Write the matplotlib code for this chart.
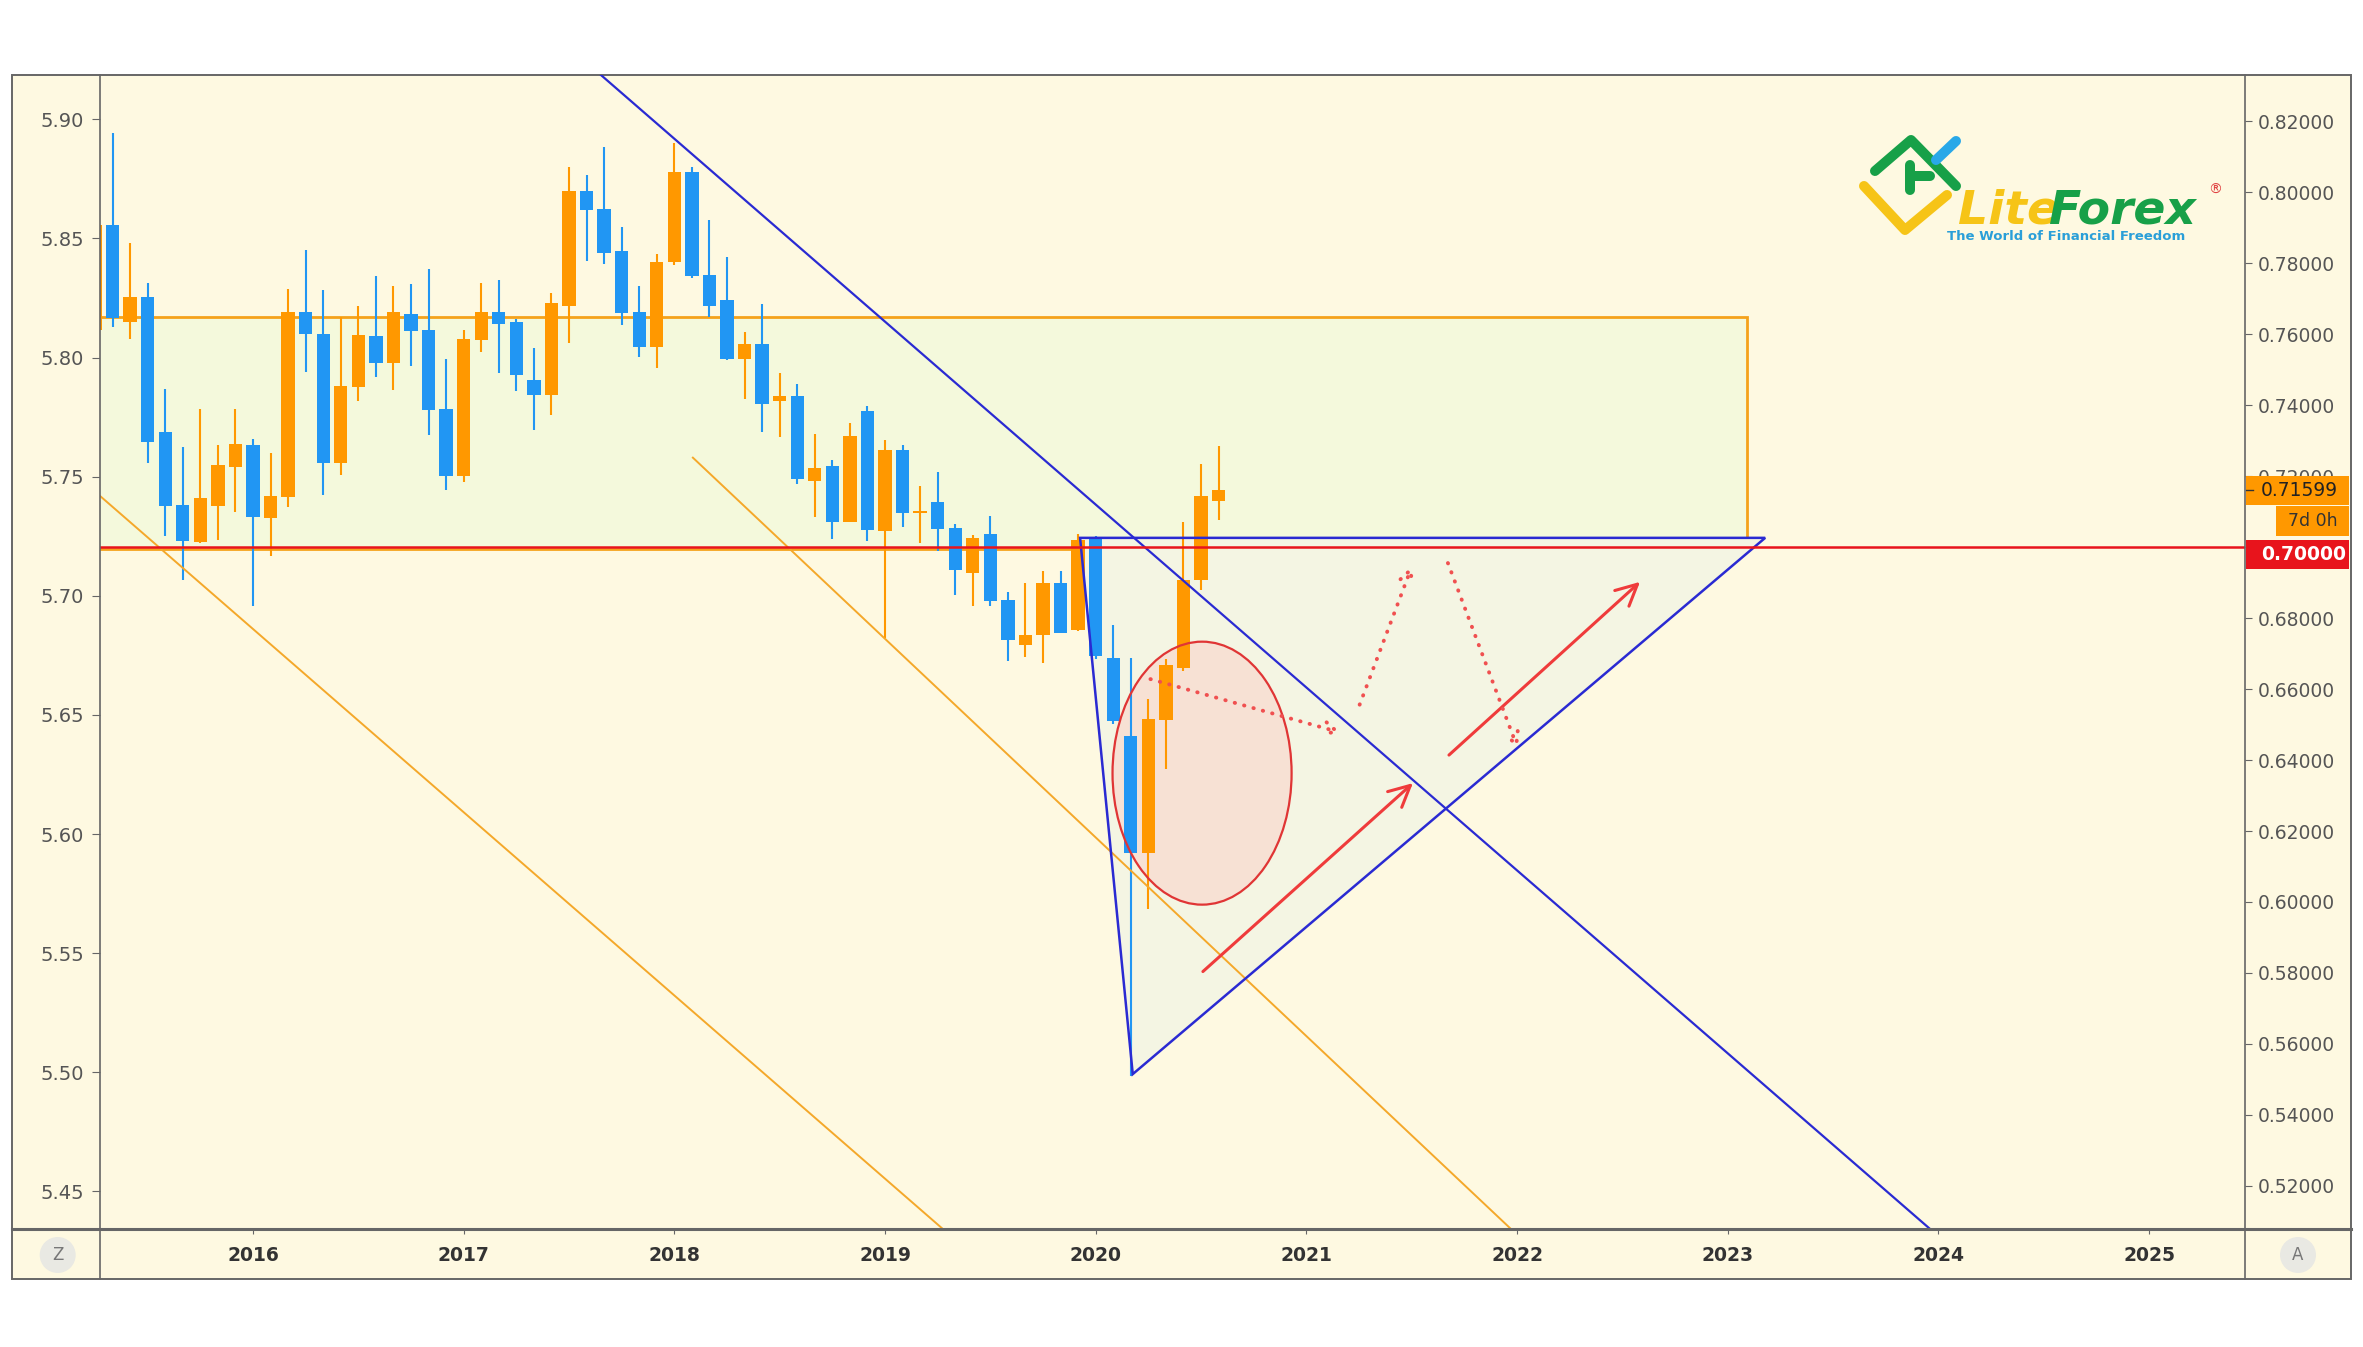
import matplotlib
matplotlib.use('Agg')
import matplotlib.pyplot as plt
from matplotlib.patches import Rectangle, Polygon, Ellipse
from matplotlib.lines import Line2D
from matplotlib.ticker import FormatStrFormatter
import pandas as pd

W, H = 2363, 1347

# monthly AUD/USD candles, Apr 2015 .. Aug 2020
months = pd.date_range('2015-04-01', periods=65, freq='MS')
opens = [0.7612, 0.7908, 0.7635, 0.7706, 0.7323, 0.7119, 0.7014, 0.7116, 0.7227,
         0.7288, 0.7081, 0.7142, 0.7662, 0.7600, 0.7236, 0.7452, 0.7595, 0.7518,
         0.7657, 0.7612, 0.7388, 0.7201, 0.7584, 0.7662, 0.7634, 0.7471, 0.7429,
         0.7680, 0.8004, 0.7952, 0.7835, 0.7661, 0.7565, 0.7803, 0.8056, 0.7766,
         0.7695, 0.7530, 0.7572, 0.7412, 0.7427, 0.7187, 0.7229, 0.7072, 0.7384,
         0.7046, 0.7273, 0.7095, 0.7127, 0.7053, 0.6927, 0.7036, 0.6850, 0.6725,
         0.6751, 0.6900, 0.6767, 0.7024, 0.6687, 0.6468, 0.6139, 0.6514, 0.6658,
         0.6906, 0.7130]
highs = [0.7908, 0.8168, 0.7856, 0.7745, 0.7445, 0.7283, 0.7388, 0.7288, 0.7388,
         0.7304, 0.7265, 0.7727, 0.7837, 0.7723, 0.7649, 0.7679, 0.7764, 0.7736,
         0.7741, 0.7784, 0.7529, 0.7612, 0.7745, 0.7753, 0.7642, 0.7560, 0.7717,
         0.8070, 0.8049, 0.8128, 0.7903, 0.7736, 0.7826, 0.8138, 0.8070, 0.7922,
         0.7817, 0.7607, 0.7684, 0.7490, 0.7459, 0.7319, 0.7244, 0.7349, 0.7398,
         0.7301, 0.7288, 0.7172, 0.7212, 0.7066, 0.7035, 0.7087, 0.6873, 0.6898,
         0.6932, 0.6932, 0.7036, 0.7030, 0.6781, 0.6688, 0.6573, 0.6685, 0.7071,
         0.7234, 0.7284]
lows = [0.7607, 0.7619, 0.7585, 0.7236, 0.7032, 0.6908, 0.7011, 0.7020, 0.7100,
        0.6833, 0.6975, 0.7112, 0.7494, 0.7147, 0.7203, 0.7412, 0.7480, 0.7443,
        0.7509, 0.7316, 0.7161, 0.7182, 0.7551, 0.7490, 0.7441, 0.7330, 0.7372,
        0.7574, 0.7807, 0.7798, 0.7626, 0.7535, 0.7504, 0.7795, 0.7757, 0.7649,
        0.7527, 0.7417, 0.7323, 0.7311, 0.7178, 0.7086, 0.7022, 0.7072, 0.7018,
        0.6744, 0.7056, 0.7011, 0.6989, 0.6866, 0.6833, 0.6833, 0.6680, 0.6690,
        0.6672, 0.6757, 0.6764, 0.6685, 0.6502, 0.5510, 0.5980, 0.6376, 0.6650,
        0.6878, 0.7077]
closes = [0.7908, 0.7645, 0.7706, 0.7297, 0.7116, 0.7016, 0.7138, 0.7230, 0.7291,
          0.7086, 0.7144, 0.7662, 0.7600, 0.7236, 0.7454, 0.7598, 0.7518, 0.7662,
          0.7610, 0.7387, 0.7201, 0.7585, 0.7662, 0.7628, 0.7485, 0.7429, 0.7687,
          0.8004, 0.7950, 0.7830, 0.7659, 0.7565, 0.7804, 0.8056, 0.7764, 0.7679,
          0.7529, 0.7572, 0.7402, 0.7427, 0.7191, 0.7224, 0.7072, 0.7313, 0.7047,
          0.7273, 0.7095, 0.7102, 0.7051, 0.6935, 0.7026, 0.6848, 0.6738, 0.6752,
          0.6900, 0.6759, 0.7021, 0.6693, 0.6510, 0.6139, 0.6517, 0.6668, 0.6906,
          0.7145, 0.71599]

year_ticks = list(range(2016, 2026))
right_ticks = [0.52, 0.54, 0.56, 0.58, 0.60, 0.62, 0.64, 0.66, 0.68, 0.70,
               0.72, 0.74, 0.76, 0.78, 0.80, 0.82]
left_ticks = [5.45, 5.50, 5.55, 5.60, 5.65, 5.70, 5.75, 5.80, 5.85, 5.90]

# drawings on the chart
zone_top, zone_bottom, zone_end = 0.7648, 0.6995, 2023.093
alert_level = 0.70
triangle = [(2019.926, 0.7026), (2020.176, 0.5515), (2023.178, 0.7026)]
blue_trend = [(2017.652, 0.8330), (2023.956, 0.5081)]
channel_lines = [[(2015.276, 0.7143), (2019.270, 0.5081)],
                 [(2018.088, 0.7252), (2021.967, 0.5081)]]
ellipse_center, ellipse_w, ellipse_h = (2020.505, 0.6363), 0.850, 0.0741
solid_arrows = [((2020.509, 0.5804), (2021.506, 0.6335)),
                ((2021.677, 0.6414), (2022.584, 0.6902))]
dotted_arrows = [((2020.260, 0.6628), (2021.164, 0.6477)),
                 ((2021.253, 0.6556), (2021.502, 0.6947)),
                 ((2021.672, 0.6955), (2022.004, 0.6432))]

BG = '#fef9e1'
UP, DOWN = '#ff9800', '#2196f3'
RED = '#ef3b3b'
BLUE_LINE = '#2a2ad2'
GRID = '#666666'


def to_left(r):
    return 5.8992 - 1.48961 * (0.82 - r)


def to_right(v):
    return 0.82 - (5.8992 - v) / 1.48961


def fx(px):
    return px / W


def fy(py):
    return 1 - py / H


fig = plt.figure(figsize=(W / 100, H / 100), dpi=100, facecolor='white')

# outer cream frame
fig.add_artist(Rectangle((fx(12), fy(1279)), fx(2351) - fx(12), fy(75) - fy(1279),
                         transform=fig.transFigure, fc=BG, ec=GRID, lw=1.4, zorder=-1))

ax = fig.add_axes([fx(99.5), fy(1228), fx(2245) - fx(99.5), fy(75) - fy(1228)])
ax.patch.set_visible(False)
for s in ax.spines.values():
    s.set_visible(False)
ax.set_xlim(2015.2714, 2025.4556)
ax.set_ylim(0.50814, 0.83302)

x = months.year + (months.month - 1) / 12

# zone, triangle, ellipse fills
ax.add_patch(Rectangle((2014.5, zone_bottom), zone_end - 2014.5, zone_top - zone_bottom,
                       fc='#f4f9dc', ec='#f5a21b', lw=2, zorder=1))
ax.add_patch(Polygon(triangle, closed=True, fc='#f4f5e3', ec='none', zorder=1.5))
ax.add_patch(Ellipse(ellipse_center, ellipse_w, ellipse_h, fc='#fcc4be', ec='none',
                     alpha=0.4, zorder=1.6))

# candles
bw = 0.0633
for xi, o, h, l, c in zip(x, opens, highs, lows, closes):
    col = UP if c >= o else DOWN
    ax.vlines(xi, l, h, color=col, lw=1.5, zorder=3)
    ax.bar(xi, max(abs(c - o), 0.0006), bottom=min(o, c), width=bw, color=col,
           edgecolor='none', zorder=3.1)

# lines
for pts in channel_lines:
    ax.plot([p[0] for p in pts], [p[1] for p in pts], color='#f4a82a', lw=1.4, zorder=4)
ax.plot([p[0] for p in blue_trend], [p[1] for p in blue_trend], color=BLUE_LINE, lw=1.6, zorder=4)
ax.add_patch(Polygon(triangle, closed=True, fc='none', ec=BLUE_LINE, lw=1.8, zorder=4.2))
ax.axhline(alert_level, color='#e8141c', lw=1.8, zorder=4.5)
ax.add_patch(Ellipse(ellipse_center, ellipse_w, ellipse_h, fc='none', ec='#e03535',
                     lw=1.6, zorder=4.3))

for tail, head in solid_arrows:
    ax.annotate('', xy=head, xytext=tail, zorder=5,
                arrowprops=dict(arrowstyle='->', color=RED, lw=2.2, mutation_scale=38,
                                shrinkA=0, shrinkB=0))
for tail, head in dotted_arrows:
    ax.annotate('', xy=head, xytext=tail, zorder=5,
                arrowprops=dict(arrowstyle='->', color='#f05050', lw=2.8, mutation_scale=22,
                                linestyle=(0, (0.1, 2.4)), capstyle='round',
                                shrinkA=0, shrinkB=0))

# axes ticks
ax.set_xticks(year_ticks)
ax.set_xticklabels([str(y) for y in year_ticks], fontsize=13.5, fontweight='bold', color='#333333')
ax.tick_params(axis='x', direction='out', length=4, color=GRID, pad=9)
ax.yaxis.tick_right()
ax.set_yticks(right_ticks)
ax.yaxis.set_major_formatter(FormatStrFormatter('%.5f'))
ax.tick_params(axis='y', direction='out', length=5, color=GRID, labelcolor='#555555',
               labelsize=13.5, pad=4)

sec = ax.secondary_yaxis('left', functions=(to_left, to_right))
sec.set_yticks(left_ticks)
sec.yaxis.set_major_formatter(FormatStrFormatter('%.2f'))
sec.spines['left'].set_visible(False)
sec.tick_params(direction='out', length=6, color=GRID, labelcolor='#555555',
                labelsize=14, pad=5)

# axis lines
fig.add_artist(Line2D([fx(99.5)] * 2, [fy(75), fy(1279)], color=GRID, lw=1.2))
fig.add_artist(Line2D([fx(2245)] * 2, [fy(75), fy(1279)], color=GRID, lw=1.2))
fig.add_artist(Line2D([fx(12), fx(2351)], [fy(1228.5), fy(1228.5)], color=GRID, lw=2.2))

# price labels on the right scale
tr = ax.get_yaxis_transform()
box_h = 0.0082
ax.add_patch(Rectangle((1.0005, closes[-1] - box_h / 2), 0.048, box_h, transform=tr,
                       fc=UP, ec='none', clip_on=False, zorder=6))
ax.plot([1.0005, 1.0035], [closes[-1]] * 2, transform=tr, color='#333333', lw=1,
        clip_on=False, zorder=7)
ax.text(1.0075, closes[-1], f'{closes[-1]:.5f}', transform=tr, ha='left', va='center',
        fontsize=13.5, color='#222222', zorder=7, clip_on=False)
ax.add_patch(Rectangle((1.01445, 0.70735 - box_h / 2), 0.034, box_h, transform=tr,
                       fc=UP, ec='none', clip_on=False, zorder=6))
ax.text(1.0315, 0.70735, '7d 0h', transform=tr, ha='center', va='center',
        fontsize=12.5, color='#333333', zorder=7, clip_on=False)
ax.add_patch(Rectangle((1.0005, 0.6979 - box_h / 2), 0.048, box_h, transform=tr,
                       fc='#e8141c', ec='none', clip_on=False, zorder=6))
ax.text(1.0075, 0.6979, f'{alert_level:.5f}', transform=tr, ha='left', va='center',
        fontsize=13.5, color='white', fontweight='bold', zorder=7, clip_on=False)

# corner buttons
for cx, letter in [(57.7, 'Z'), (2298, 'A')]:
    fig.add_artist(Ellipse((fx(cx), fy(1255)), 36 / W, 36 / H, transform=fig.transFigure,
                           fc='#e9e9e3', ec='none'))
    fig.text(fx(cx), fy(1255), letter, ha='center', va='center', fontsize=12, color='#777777')


# logo
def logo_stroke(pts, color):
    fig.add_artist(Line2D([fx(p[0]) for p in pts], [fy(p[1]) for p in pts], color=color,
                          lw=7.2, solid_capstyle='round', solid_joinstyle='round',
                          transform=fig.transFigure))


logo_stroke([(1864, 186), (1905, 230), (1947, 195)], '#f6c417')
logo_stroke([(1875, 171), (1911, 140), (1956, 186)], '#17a048')
logo_stroke([(1910, 190), (1910, 165)], '#17a048')
logo_stroke([(1910, 176), (1930, 176)], '#17a048')
logo_stroke([(1936, 160), (1956, 141)], '#29a8e8')
fig.text(fx(1958), fy(223), 'Lite', fontsize=34, fontweight='bold', style='italic',
         color='#f6c417', ha='left', va='baseline')
fig.text(fx(2049), fy(223), 'Forex', fontsize=34, fontweight='bold', style='italic',
         color='#17a048', ha='left', va='baseline')
fig.text(fx(2215), fy(190), '®', fontsize=10, color='#e04040', ha='center', va='center')
fig.text(fx(1947), fy(236), 'The World of Financial Freedom', fontsize=9.5,
         fontweight='bold', color='#2a9fd8', ha='left', va='center')

fig.savefig('out.png', dpi=100, facecolor='white')
plt.close(fig)
